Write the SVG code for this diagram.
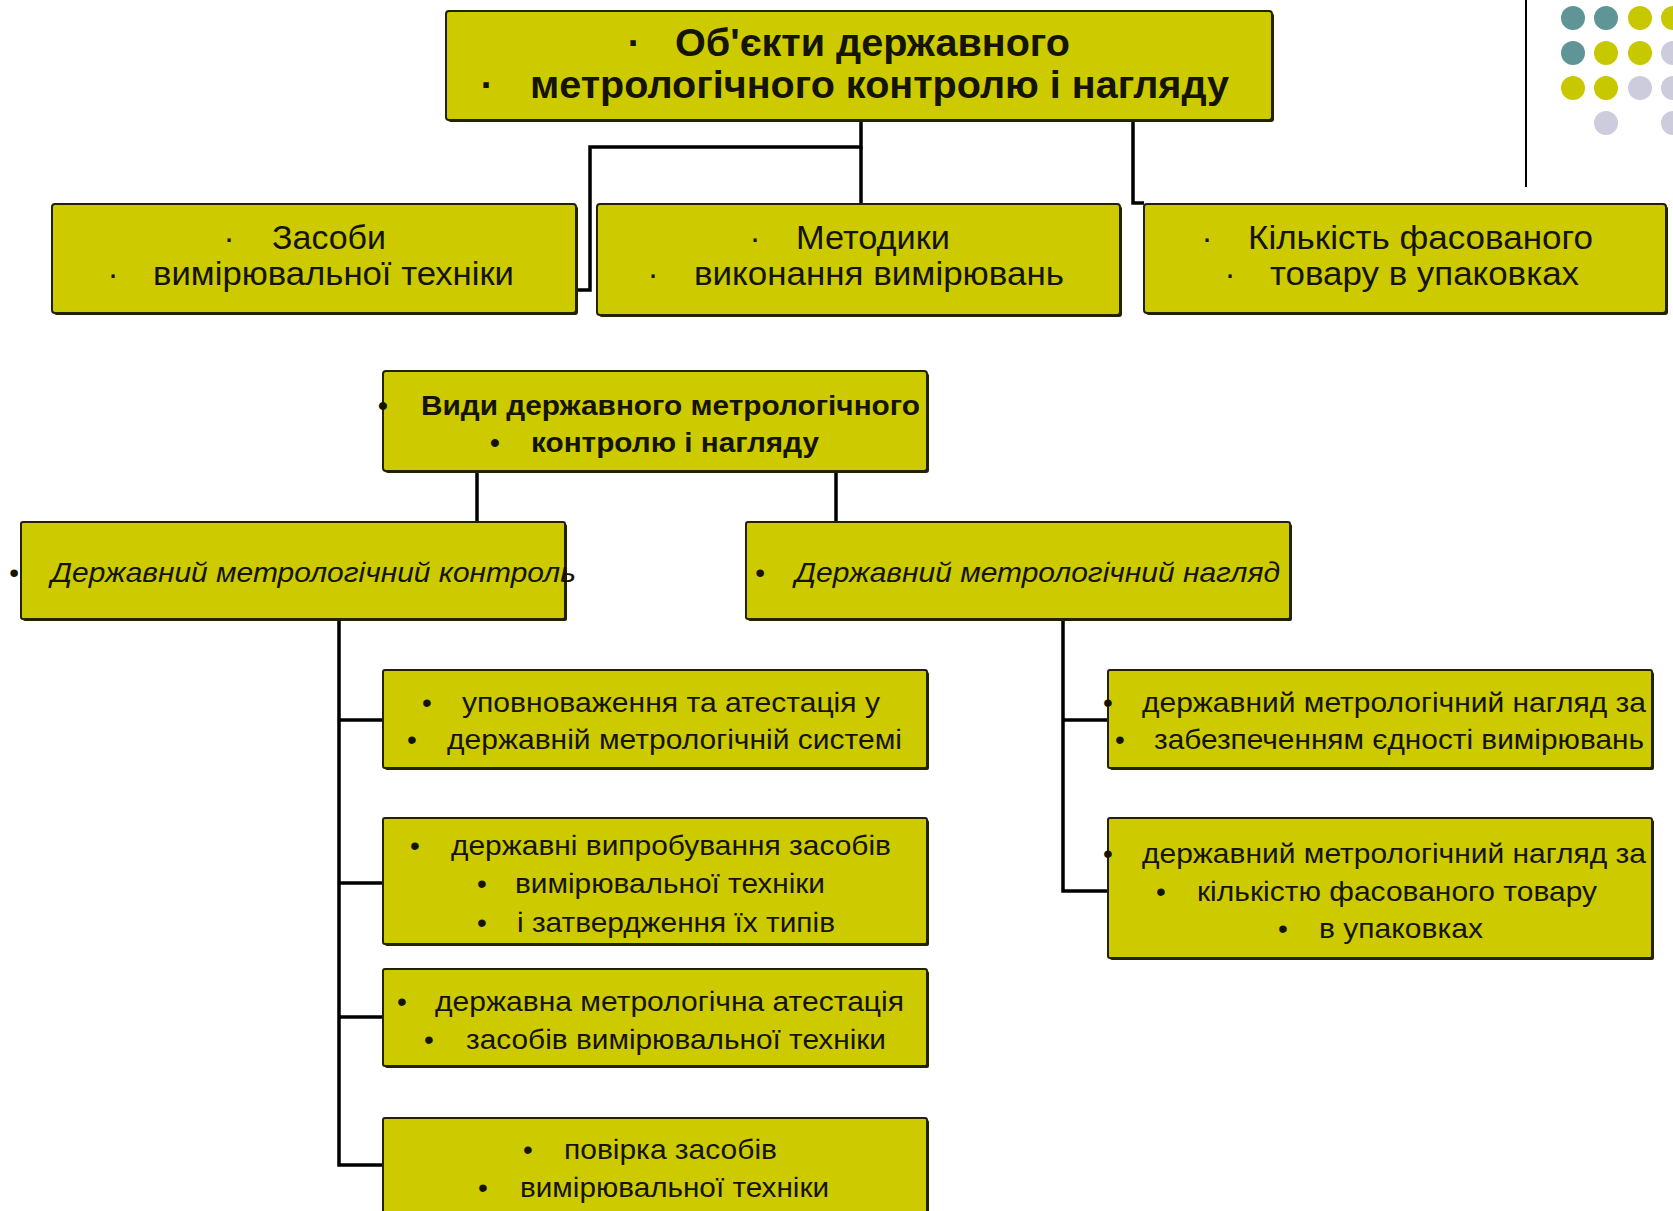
<svg xmlns="http://www.w3.org/2000/svg" width="1673" height="1211" viewBox="0 0 1673 1211">
<style>
.box{fill:#cdcb00;stroke:#222200;stroke-width:2}
.sh{fill:#222200}
.t{font-family:"Liberation Sans",Arial,sans-serif;fill:#141400}
.b1{font-size:38px;font-weight:bold}
.r2{font-size:33px}
.b3{font-size:28px;font-weight:bold}
.i4{font-size:28px;font-style:italic}
.r5{font-size:28px}
.c{fill:none;stroke:#000;stroke-width:3.5}
</style>
<rect width="1673" height="1211" fill="#fff"/>
<g id="decor">
<line x1="1526" y1="0" x2="1526" y2="187" stroke="#000" stroke-width="2"/>
<circle cx="1573" cy="18" r="12" fill="#5f9596"/>
<circle cx="1606" cy="18" r="12" fill="#5f9596"/>
<circle cx="1640" cy="18" r="12" fill="#c8c800"/>
<circle cx="1673" cy="18" r="12" fill="#c8c800"/>
<circle cx="1573" cy="53" r="12" fill="#5f9596"/>
<circle cx="1606" cy="53" r="12" fill="#c8c800"/>
<circle cx="1640" cy="53" r="12" fill="#c8c800"/>
<circle cx="1673" cy="53" r="12" fill="#ccccdd"/>
<circle cx="1573" cy="88" r="12" fill="#c8c800"/>
<circle cx="1606" cy="88" r="12" fill="#c8c800"/>
<circle cx="1640" cy="88" r="12" fill="#ccccdd"/>
<circle cx="1673" cy="88" r="12" fill="#ccccdd"/>
<circle cx="1606" cy="123" r="12" fill="#ccccdd"/>
<circle cx="1673" cy="123" r="12" fill="#ccccdd"/>
</g>
<g id="connectors">
<polyline class="c" points="861,120 861,147 590,147 590,290 576,290"/>
<line class="c" x1="861" y1="147" x2="861" y2="204"/>
<polyline class="c" points="1133,120 1133,203 1144,203"/>
<line class="c" x1="477" y1="471" x2="477" y2="522"/>
<line class="c" x1="836" y1="471" x2="836" y2="522"/>
<polyline class="c" points="339,619 339,1165 383,1165"/>
<line class="c" x1="339" y1="720" x2="383" y2="720"/>
<line class="c" x1="339" y1="883" x2="383" y2="883"/>
<line class="c" x1="339" y1="1017" x2="383" y2="1017"/>
<polyline class="c" points="1063,619 1063,891 1108,891"/>
<line class="c" x1="1063" y1="720" x2="1108" y2="720"/>
</g>
<g id="n-top">
<rect class="sh" x="448" y="13" width="826" height="109" rx="3"/>
<rect class="box" x="446" y="11" width="826" height="109" rx="3"/>
<text class="t b1" x="634" y="56" text-anchor="middle">·</text>
<text class="t b1" x="675" y="56" textLength="395" lengthAdjust="spacingAndGlyphs">Об'єкти державного</text>
<text class="t b1" x="487" y="98" text-anchor="middle">·</text>
<text class="t b1" x="530" y="98" textLength="699" lengthAdjust="spacingAndGlyphs">метрологічного контролю і нагляду</text>
</g>
<g id="n-zasoby">
<rect class="sh" x="54" y="206" width="524" height="109" rx="3"/>
<rect class="box" x="52" y="204" width="524" height="109" rx="3"/>
<text class="t r2" x="229" y="249" text-anchor="middle">·</text>
<text class="t r2" x="272" y="249" textLength="114" lengthAdjust="spacingAndGlyphs">Засоби</text>
<text class="t r2" x="113" y="285" text-anchor="middle">·</text>
<text class="t r2" x="153" y="285" textLength="361" lengthAdjust="spacingAndGlyphs">вимірювальної техніки</text>
</g>
<g id="n-metodyky">
<rect class="sh" x="599" y="206" width="523" height="111" rx="3"/>
<rect class="box" x="597" y="204" width="523" height="111" rx="3"/>
<text class="t r2" x="755" y="249" text-anchor="middle">·</text>
<text class="t r2" x="796" y="249" textLength="154" lengthAdjust="spacingAndGlyphs">Методики</text>
<text class="t r2" x="653" y="285" text-anchor="middle">·</text>
<text class="t r2" x="694" y="285" textLength="370" lengthAdjust="spacingAndGlyphs">виконання вимірювань</text>
</g>
<g id="n-kilkist">
<rect class="sh" x="1146" y="206" width="522" height="109" rx="3"/>
<rect class="box" x="1144" y="204" width="522" height="109" rx="3"/>
<text class="t r2" x="1207" y="249" text-anchor="middle">·</text>
<text class="t r2" x="1248" y="249" textLength="345" lengthAdjust="spacingAndGlyphs">Кількість фасованого</text>
<text class="t r2" x="1230" y="285" text-anchor="middle">·</text>
<text class="t r2" x="1270" y="285" textLength="309" lengthAdjust="spacingAndGlyphs">товару в упаковках</text>
</g>
<g id="n-vydy">
<rect class="sh" x="385" y="373" width="544" height="100" rx="3"/>
<rect class="box" x="383" y="371" width="544" height="100" rx="3"/>
<text class="t b3" x="383" y="415" text-anchor="middle">•</text>
<text class="t b3" x="421" y="415" textLength="499" lengthAdjust="spacingAndGlyphs">Види державного метрологічного</text>
<text class="t b3" x="495" y="452" text-anchor="middle">•</text>
<text class="t b3" x="531" y="452" textLength="288" lengthAdjust="spacingAndGlyphs">контролю і нагляду</text>
</g>
<g id="n-kontrol">
<rect class="sh" x="23" y="524" width="544" height="97" rx="2"/>
<rect class="box" x="21" y="522" width="544" height="97" rx="2"/>
<text class="t i4" x="14" y="582" text-anchor="middle">•</text>
<text class="t i4" x="51" y="582" textLength="525" lengthAdjust="spacingAndGlyphs">Державний метрологічний контроль</text>
</g>
<g id="n-nahliad">
<rect class="sh" x="748" y="524" width="544" height="97" rx="2"/>
<rect class="box" x="746" y="522" width="544" height="97" rx="2"/>
<text class="t i4" x="760" y="582" text-anchor="middle">•</text>
<text class="t i4" x="795" y="582" textLength="485" lengthAdjust="spacingAndGlyphs">Державний метрологічний нагляд</text>
</g>
<g id="n-upovn">
<rect class="sh" x="385" y="672" width="544" height="98" rx="2"/>
<rect class="box" x="383" y="670" width="544" height="98" rx="2"/>
<text class="t r5" x="427" y="712" text-anchor="middle">•</text>
<text class="t r5" x="462" y="712" textLength="418" lengthAdjust="spacingAndGlyphs">уповноваження та атестація у</text>
<text class="t r5" x="412" y="749" text-anchor="middle">•</text>
<text class="t r5" x="447" y="749" textLength="455" lengthAdjust="spacingAndGlyphs">державній метрологічній системі</text>
</g>
<g id="n-vyprob">
<rect class="sh" x="385" y="820" width="544" height="126" rx="2"/>
<rect class="box" x="383" y="818" width="544" height="126" rx="2"/>
<text class="t r5" x="415" y="855" text-anchor="middle">•</text>
<text class="t r5" x="451" y="855" textLength="440" lengthAdjust="spacingAndGlyphs">державні випробування засобів</text>
<text class="t r5" x="482" y="893" text-anchor="middle">•</text>
<text class="t r5" x="515" y="893" textLength="310" lengthAdjust="spacingAndGlyphs">вимірювальної техніки</text>
<text class="t r5" x="482" y="932" text-anchor="middle">•</text>
<text class="t r5" x="517" y="932" textLength="318" lengthAdjust="spacingAndGlyphs">і затвердження їх типів</text>
</g>
<g id="n-atest">
<rect class="sh" x="385" y="971" width="544" height="97" rx="2"/>
<rect class="box" x="383" y="969" width="544" height="97" rx="2"/>
<text class="t r5" x="402" y="1011" text-anchor="middle">•</text>
<text class="t r5" x="435" y="1011" textLength="469" lengthAdjust="spacingAndGlyphs">державна метрологічна атестація</text>
<text class="t r5" x="429" y="1049" text-anchor="middle">•</text>
<text class="t r5" x="466" y="1049" textLength="420" lengthAdjust="spacingAndGlyphs">засобів вимірювальної техніки</text>
</g>
<g id="n-povirka">
<rect class="sh" x="385" y="1120" width="544" height="100" rx="2"/>
<rect class="box" x="383" y="1118" width="544" height="100" rx="2"/>
<text class="t r5" x="528" y="1159" text-anchor="middle">•</text>
<text class="t r5" x="564" y="1159" textLength="213" lengthAdjust="spacingAndGlyphs">повірка засобів</text>
<text class="t r5" x="483" y="1197" text-anchor="middle">•</text>
<text class="t r5" x="520" y="1197" textLength="309" lengthAdjust="spacingAndGlyphs">вимірювальної техніки</text>
</g>
<g id="n-yednist">
<rect class="sh" x="1110" y="672" width="544" height="98" rx="2"/>
<rect class="box" x="1108" y="670" width="544" height="98" rx="2"/>
<text class="t r5" x="1108" y="712" text-anchor="middle">•</text>
<text class="t r5" x="1142" y="712" textLength="504" lengthAdjust="spacingAndGlyphs">державний метрологічний нагляд за</text>
<text class="t r5" x="1120" y="749" text-anchor="middle">•</text>
<text class="t r5" x="1154" y="749" textLength="490" lengthAdjust="spacingAndGlyphs">забезпеченням єдності вимірювань</text>
</g>
<g id="n-kilkist-tovaru">
<rect class="sh" x="1110" y="820" width="544" height="140" rx="2"/>
<rect class="box" x="1108" y="818" width="544" height="140" rx="2"/>
<text class="t r5" x="1108" y="863" text-anchor="middle">•</text>
<text class="t r5" x="1142" y="863" textLength="504" lengthAdjust="spacingAndGlyphs">державний метрологічний нагляд за</text>
<text class="t r5" x="1161" y="901" text-anchor="middle">•</text>
<text class="t r5" x="1197" y="901" textLength="400" lengthAdjust="spacingAndGlyphs">кількістю фасованого товару</text>
<text class="t r5" x="1283" y="938" text-anchor="middle">•</text>
<text class="t r5" x="1319" y="938" textLength="164" lengthAdjust="spacingAndGlyphs">в упаковках</text>
</g>
</svg>
